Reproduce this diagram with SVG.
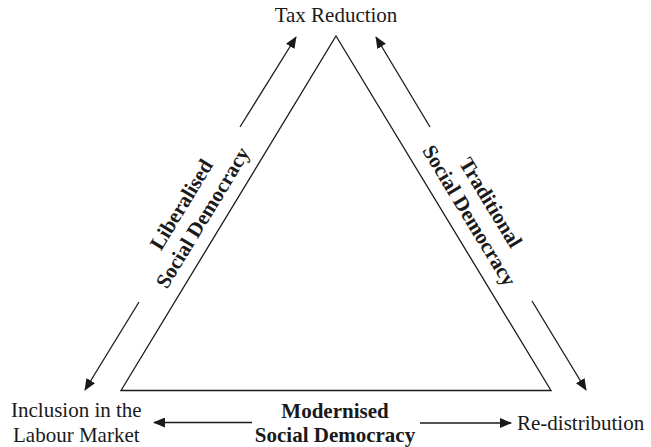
<svg xmlns="http://www.w3.org/2000/svg" width="651" height="447" viewBox="0 0 651 447">
<style>
text{font-family:"Liberation Serif","Times New Roman",serif;font-size:21px;fill:#1a1a1a}
.b{font-weight:bold}
.c{text-anchor:middle}
.edge{fill:none;stroke:#1a1a1a;stroke-width:1.3}
.arr{fill:none;stroke:#1a1a1a;stroke-width:1.3;marker-end:url(#ah)}
</style>
<defs>
<marker id="ah" markerWidth="12" markerHeight="10" viewBox="0 0 12 10" refX="11" refY="5" orient="auto" markerUnits="userSpaceOnUse">
<path d="M0,0 L12,5 L0,10 Z" fill="#1a1a1a"/>
</marker>
</defs>
<g id="triangle">
<path class="edge" d="M336,36 L551,390.5 L121,390.5 Z"/>
</g>
<g id="tax-reduction"><text class="c" x="336" y="22">Tax Reduction</text></g>
<g id="inclusion"><text x="11" y="417">Inclusion in the</text><text x="13" y="442">Labour Market</text></g>
<g id="redistribution"><text x="517" y="430">Re-distribution</text></g>
<g id="modernised"><text class="c b" x="335" y="418">Modernised</text><text class="c b" x="335" y="442">Social Democracy</text></g>
<g id="liberalised" transform="translate(192,211) rotate(-58.7)"><text class="c b" x="0" y="-5.5">Liberalised</text><text class="c b" x="0" y="19.5">Social Democracy</text></g>
<g id="traditional" transform="translate(480,209) rotate(58.7)"><text class="c b" x="0" y="-5.5">Traditional</text><text class="c b" x="0" y="19.5">Social Democracy</text></g>
<g id="connectors">
<line class="arr" x1="240" y1="127" x2="296" y2="37"/>
<line class="arr" x1="139" y1="302" x2="85" y2="390"/>
<line class="arr" x1="430" y1="127" x2="376" y2="37"/>
<line class="arr" x1="532" y1="301" x2="586" y2="390"/>
<line class="arr" x1="252" y1="422.5" x2="154" y2="422.5"/>
<line class="arr" x1="420" y1="423" x2="511" y2="423"/>
</g>
</svg>
